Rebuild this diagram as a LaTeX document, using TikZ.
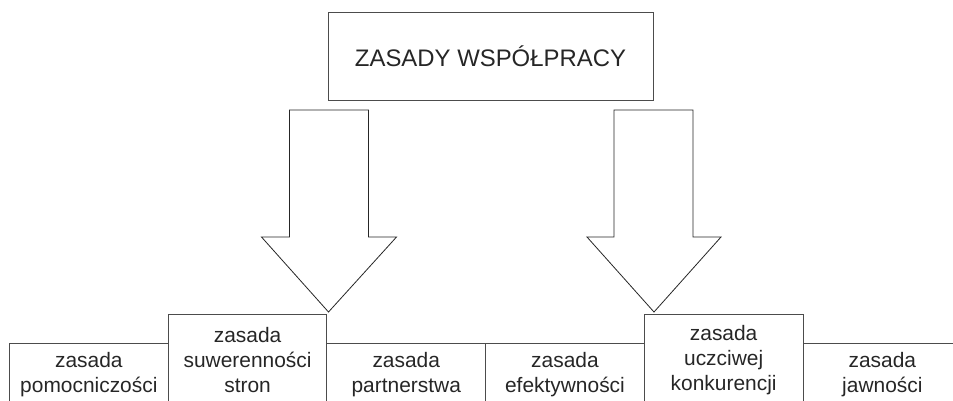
\documentclass[tikz,border=0pt]{standalone}
\usepackage{fontspec}
\setmainfont{Liberation Sans}
\usetikzlibrary{positioning}

\tikzset{
  box/.style={draw=black!70, line width=1bp, align=center, inner sep=0pt, text=black!85},
  cell/.style={box, anchor=north west, minimum width=158.7bp, font=\fontsize{21}{25}\selectfont},
  low/.style={cell, minimum height=62bp},
  high/.style={cell, minimum height=91bp},
  bigarrow/.style={draw=black!85, line width=0.8bp, fill=white},
}

\begin{document}
\begin{tikzpicture}[x=1bp, y=-1bp]
\useasboundingbox (0,0) rectangle (953,400);
% title
\node[box, minimum width=325bp, minimum height=88bp, font=\fontsize{24}{28}\selectfont] (title) at (490.5,56) {ZASADY WSPÓŁPRACY};

% arrows
\coordinate (tipA) at (328.5,312);
\coordinate (tipB) at (654,312);
\draw[bigarrow] (tipA) -- ++(-67,-75) -- ++(28,0) -- ++(0,-127) -- ++(79,0)
  -- ++(0,127) -- ++(28,0) -- cycle;
\draw[bigarrow] (tipB) -- ++(-67,-75) -- ++(27,0) -- ++(0,-127) -- ++(79,0)
  -- ++(0,127) -- ++(28,0) -- cycle;

% bottom row
\node[low] (pomoc) at (9,343) {zasada\\pomocniczości};
\node[high] (suwer) at (167.7,314) {zasada\\suwerenności\\stron};
\node[low] (partner) at (326.4,343) {zasada\\partnerstwa};
\node[low] (efekt) at (485.1,343) {zasada\\efektywności};
\node[high] (uczciw) at (643.8,314) {zasada\\uczciwej\\konkurencji};
\node[low] (jawn) at (802.5,343) {zasada\\jawności};
\end{tikzpicture}
\end{document}
